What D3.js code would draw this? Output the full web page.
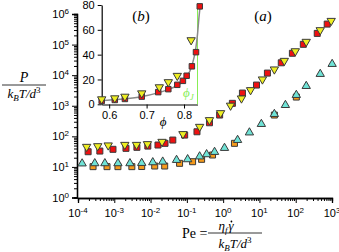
<!DOCTYPE html>
<html>
<head>
<meta charset="utf-8">
<script src="https://cdn.jsdelivr.net/npm/d3@7"></script>
<style>
  body { margin: 0; background: #fff; }
  svg { display: block; }
  .tick text { font-family: "Liberation Sans", Arial, sans-serif; }
</style>
</head>
<body>
<div id="chart"></div>
<script>
// ---- panel (a): P vs Pe, upper branch ----
var redPe = [1.9e-4, 4.0e-4, 9.2e-4, 2.1e-3, 4.2e-3, 8.4e-3, 1.6e-2, 2.5e-2, 4.1e-2, 8.7e-2, 0.19, 0.42, 0.80, 1.8, 3.4, 8.3, 16.6, 40, 81, 162, 392, 738];
var redP  = [31.4, 33, 37.6, 40.5, 43.7, 48, 52, 59, 75.6, 110, 141, 278, 497, 1200, 2600, 4750, 11700, 25400, 52000, 102000, 232000, 468000];
var yelPe = [1.73e-4, 3.5e-4, 6.8e-4, 1.95e-3, 4.1e-3, 8.2e-3, 2.07e-2, 7.8e-2, 0.225, 0.42, 0.85, 1.6, 3.2, 5.7, 12.1, 25.8, 48.6, 97.5, 195, 474, 950];
var yelP  = [45.7, 48, 50.8, 53, 53, 56, 66.6, 119, 206, 341, 577, 1015, 1745, 3260, 7300, 15500, 29600, 61000, 124000, 298000, 600000];

// lower branch
var cyanPe = [1.3e-4, 2.9e-4, 5.5e-4, 1.26e-3, 2.7e-3, 5.7e-3, 1.15e-2, 2.16e-2, 5.2e-2, 0.105, 0.225, 0.35, 0.58, 1.09, 2.5, 5.3, 11.3, 25.8, 52, 104, 195, 474, 1010];
var cyanP  = [12.9, 13.1, 13.1, 13.1, 13.1, 13.4, 14.1, 14.8, 16.8, 17.7, 21.9, 25.8, 30.7, 41.5, 75.6, 133, 252, 535, 1050, 2240, 4400, 10900, 23100];
var orgPe = [2.6e-4, 6.3e-4, 1.26e-3, 3.05e-3, 5.7e-3, 1.3e-2, 2.45e-2, 6.3e-2, 0.144, 0.255, 0.51, 2.05, 25.8, 104];
var orgP  = [10.2, 10.2, 10.2, 10.2, 10.3, 10.7, 10.7, 13.1, 14.8, 17.7, 24.5, 59, 497, 1925];

var xTickExp = [-4, -3, -2, -1, 0, 1, 2, 3];
var yTickExp = [0, 1, 2, 3, 4, 5, 6];

// ---- panel (b): P vs phi ----
var inRedPhi = [0.580, 0.615, 0.642, 0.687, 0.731, 0.758, 0.782, 0.797, 0.807, 0.821, 0.832, 0.842];
var inRedP   = [2.7, 3.5, 4.3, 6.2, 9.8, 12.2, 15.7, 18.9, 23, 30.6, 42, 78.9];
var inYelPhi = [0.580, 0.615, 0.642, 0.687, 0.734, 0.758, 0.782, 0.819];
var inYelP   = [4.1, 4.9, 6.2, 8.9, 13.8, 17.9, 23, 51.7];
var fitPhi = [0.580, 0.629, 0.682, 0.730, 0.762, 0.789, 0.805, 0.816, 0.824, 0.831, 0.836, 0.840, 0.843];
var fitP   = [3.1, 4.1, 5.9, 9.2, 12.4, 16.5, 21.4, 27.1, 34.4, 44.1, 56.3, 70.2, 79.1];
var inXTicks = [0.6, 0.7, 0.8];
var inYTicks = [0, 20, 40, 60, 80];
var phiJ = 0.836;

var width = 339, height = 252;
var svg = d3.select("#chart").append("svg")
    .attr("width", width).attr("height", height);

var x = d3.scaleLog().domain([1e-4, 1e3]).range([78, 332]);
var y = d3.scaleLog().domain([1, 1e6]).range([197.5, 14]);

function minors(lo, hi) {
  var out = [];
  for (var e = lo; e < hi; e++)
    for (var m = 2; m <= 9; m++) out.push(m * Math.pow(10, e));
  return out;
}

// main axes
var gx = svg.append("g").attr("transform", "translate(0,198)");
gx.call(d3.axisBottom(x).tickValues(xTickExp.map(function(e) { return Math.pow(10, e); }))
    .tickSize(5).tickFormat(""));
gx.append("g").call(d3.axisBottom(x).tickValues(minors(-4, 3)).tickSize(3).tickFormat(""));
gx.selectAll("path").attr("stroke-width", 1.3);

svg.selectAll(".xlbl").data(xTickExp).enter().append("text")
    .attr("class", "xlbl")
    .attr("x", function(d) { return x(Math.pow(10, d)); })
    .attr("y", 217)
    .attr("text-anchor", "middle")
    .attr("fill", "#000")
    .style("font-family", "Liberation Sans, Arial, sans-serif")
    .style("font-size", "11px")
    .each(function(d) {
      var t = d3.select(this);
      t.append("tspan").text("10");
      t.append("tspan").attr("dy", -4).style("font-size", "8px").text(d < 0 ? "-" + (-d) : d);
    });

var gy = svg.append("g").attr("transform", "translate(77,0)");
gy.call(d3.axisLeft(y).tickValues(yTickExp.map(function(e) { return Math.pow(10, e); }))
    .tickSize(5).tickFormat(""));
gy.append("g").call(d3.axisLeft(y).tickValues(minors(0, 6)).tickSize(3).tickFormat(""));
gy.selectAll("path").attr("stroke-width", 1.3);

svg.selectAll(".ylbl").data(yTickExp).enter().append("text")
    .attr("class", "ylbl")
    .attr("x", 69)
    .attr("y", function(d) { return y(Math.pow(10, d)) + 4; })
    .attr("text-anchor", "end")
    .style("font-family", "Liberation Sans, Arial, sans-serif")
    .style("font-size", "11px")
    .each(function(d) {
      var t = d3.select(this);
      t.append("tspan").text("10");
      t.append("tspan").attr("dy", -4).style("font-size", "8px").text(d);
    });

// markers
var sq = d3.symbol().type(d3.symbolSquare).size(36);
var triUp = d3.symbol().type(d3.symbolTriangle).size(30);

function drawSeries(xs, ys, shape, fill, flip) {
  svg.append("g").selectAll("path")
    .data(xs.map(function(v, i) { return [v, ys[i]]; }))
    .enter().append("path")
    .attr("d", shape)
    .attr("transform", function(d) {
      return "translate(" + x(d[0]) + "," + y(d[1]) + ")" + (flip ? " rotate(180)" : "");
    })
    .attr("fill", fill)
    .attr("stroke", "#3a3a3a")
    .attr("stroke-width", 1);
}

drawSeries(orgPe, orgP, sq, "#f59a1c", false);
drawSeries(cyanPe, cyanP, triUp, "#6fe3d6", false);
drawSeries(redPe, redP, sq, "#ee1111", false);
drawSeries(yelPe, yelP, triUp, "#eeee22", true);

// axis titles
var serif = "Liberation Serif, Times New Roman, serif";
function kbt(sel) {
  sel.append("tspan").text("k");
  sel.append("tspan").attr("dy", 3).style("font-size", "9px").style("font-style", "italic").text("B");
  sel.append("tspan").attr("dy", -3).text("T/d");
  sel.append("tspan").attr("dy", -5).style("font-size", "9px").style("font-style", "normal").text("3");
}
svg.append("text").attr("x", 24).attr("y", 82).attr("text-anchor", "middle")
    .style("font-family", serif).style("font-style", "italic").style("font-size", "14px").text("P");
svg.append("line").attr("x1", 2).attr("x2", 46).attr("y1", 85).attr("y2", 85)
    .attr("stroke", "#000").attr("stroke-width", 0.8);
kbt(svg.append("text").attr("x", 24).attr("y", 98).attr("text-anchor", "middle")
    .style("font-family", serif).style("font-style", "italic").style("font-size", "13px"));

svg.append("text").attr("x", 182).attr("y", 238)
    .style("font-family", serif).style("font-size", "14px").text("Pe =");
var num = svg.append("text").attr("x", 226).attr("y", 230).attr("text-anchor", "middle")
    .style("font-family", serif).style("font-style", "italic").style("font-size", "13px");
num.append("tspan").text("η");
num.append("tspan").attr("dy", 3).style("font-size", "9px").text("f");
num.append("tspan").attr("dy", -3).attr("dx", 1).text("γ");
var nb = num.node().getBBox();
svg.append("circle").attr("cx", nb.x + nb.width - 3).attr("cy", 221.5).attr("r", 0.9).attr("fill", "#000");
svg.append("line").attr("x1", 208).attr("x2", 262).attr("y1", 233).attr("y2", 233)
    .attr("stroke", "#000").attr("stroke-width", 0.8);
kbt(svg.append("text").attr("x", 235).attr("y", 248).attr("text-anchor", "middle")
    .style("font-family", serif).style("font-style", "italic").style("font-size", "13px"));

svg.append("text").attr("x", 263).attr("y", 21).attr("text-anchor", "middle")
    .style("font-family", serif).style("font-size", "15px")
    .html('(<tspan font-style="italic">a</tspan>)');

// ---- inset (b) ----
var ix = d3.scaleLinear().domain([0.58, phiJ]).range([101.7, 197.5]);
var iy = d3.scaleLinear().domain([0, 80]).range([104.3, 5]);

var igx = svg.append("g").attr("transform", "translate(0,104.5)");
igx.call(d3.axisBottom(ix).tickValues(inXTicks).tickSize(4).tickSizeOuter(0)
    .tickFormat(d3.format(".1f")));
var igy = svg.append("g").attr("transform", "translate(101.7,0)");
igy.call(d3.axisLeft(iy).tickValues(inYTicks).tickSize(4).tickSizeOuter(0)
    .tickFormat(d3.format("d")));
svg.selectAll(".tick text").style("font-size", "11px");
igx.selectAll("path").attr("stroke-width", 1.2);
igy.selectAll("path").attr("stroke-width", 1.2);

svg.append("line").attr("x1", ix(phiJ)).attr("x2", ix(phiJ))
    .attr("y1", iy(0)).attr("y2", iy(80))
    .attr("stroke", "#88ee55").attr("stroke-width", 1);

svg.append("path")
    .datum(fitPhi.map(function(v, i) { return [v, fitP[i]]; }))
    .attr("d", d3.line().x(function(d) { return ix(d[0]); }).y(function(d) { return iy(d[1]); })
        .curve(d3.curveMonotoneX))
    .attr("fill", "none").attr("stroke", "#8a8a8a").attr("stroke-width", 1.5);

var sqS = d3.symbol().type(d3.symbolSquare).size(30);
var triS = d3.symbol().type(d3.symbolTriangle).size(30);
svg.append("g").selectAll("path")
    .data(inRedPhi.map(function(v, i) { return [v, inRedP[i]]; }))
    .enter().append("path")
    .attr("d", sqS)
    .attr("transform", function(d) { return "translate(" + ix(d[0]) + "," + iy(d[1]) + ")"; })
    .attr("fill", "#ee1111").attr("stroke", "#3a3a3a").attr("stroke-width", 1);
svg.append("g").selectAll("path")
    .data(inYelPhi.map(function(v, i) { return [v, inYelP[i]]; }))
    .enter().append("path")
    .attr("d", triS)
    .attr("transform", function(d) { return "translate(" + ix(d[0]) + "," + iy(d[1]) + ") rotate(180)"; })
    .attr("fill", "#eeee22").attr("stroke", "#3a3a3a").attr("stroke-width", 1);

svg.append("text").attr("x", 163).attr("y", 126).attr("text-anchor", "middle")
    .style("font-family", serif).style("font-style", "italic").style("font-size", "13px").text("ϕ");
var pj = svg.append("text").attr("x", 183).attr("y", 97)
    .style("font-family", serif).style("font-style", "italic").style("font-size", "13px")
    .attr("fill", "#88ee55");
pj.append("tspan").text("ϕ");
pj.append("tspan").attr("dy", 3).style("font-size", "9px").text("J");

svg.append("text").attr("x", 141).attr("y", 21).attr("text-anchor", "middle")
    .style("font-family", serif).style("font-style", "italic").style("font-size", "15px")
    .html('<tspan font-style="normal">(</tspan>b<tspan font-style="normal">)</tspan>');
</script>
</body>
</html>
